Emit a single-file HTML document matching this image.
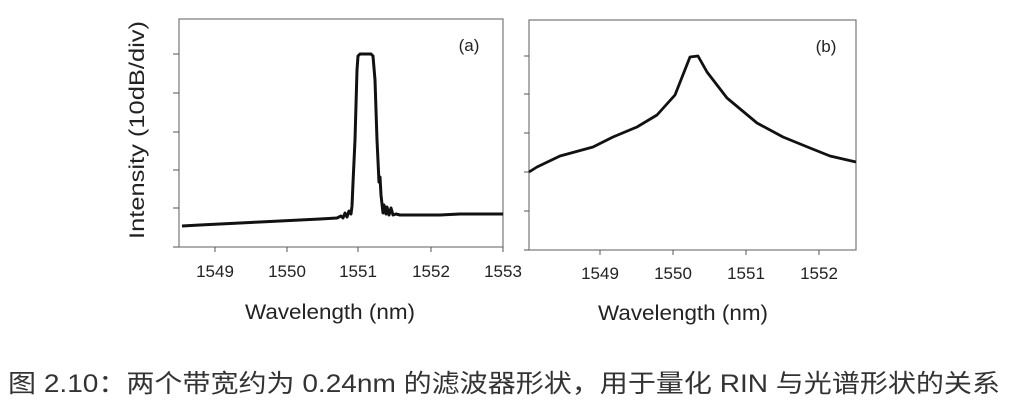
<!DOCTYPE html>
<html><head><meta charset="utf-8"><style>
html,body{margin:0;padding:0;background:#fff;}
svg{display:block;}
</style></head><body>
<svg width="1010" height="407" viewBox="0 0 1010 407" xmlns="http://www.w3.org/2000/svg" font-family="Liberation Sans, sans-serif">
<rect x="179" y="19" width="324" height="228" fill="none" stroke="#777" stroke-width="1.2"/>
<g stroke="#555" stroke-width="1">
<line x1="173" y1="54" x2="179" y2="54"/><line x1="173" y1="93" x2="179" y2="93"/><line x1="173" y1="132" x2="179" y2="132"/><line x1="173" y1="170" x2="179" y2="170"/><line x1="173" y1="208" x2="179" y2="208"/><line x1="173" y1="247" x2="179" y2="247"/>
<line x1="215" y1="247" x2="215" y2="252"/><line x1="287" y1="247" x2="287" y2="252"/><line x1="358" y1="247" x2="358" y2="252"/><line x1="431" y1="247" x2="431" y2="252"/><line x1="503" y1="247" x2="503" y2="252"/>
</g>
<path d="M182,226 L200,225 L220,224 L240,223 L260,222 L280,221 L300,220 L320,219 L337,218 L341,216 L343,218 L345,213 L347,217 L349,211 L351,214 L352,206 L353,183 L355,140 L357,70 L358,56 L360,54 L371,54 L373,56 L375,80 L377,140 L379,182 L380,177 L381,195 L383,213 L384,205 L386,214 L387,207 L389,215 L391,208 L393,215 L396,214 L400,215 L420,215 L440,215 L460,214 L480,214 L503,214" fill="none" stroke="#111" stroke-width="3" stroke-linejoin="round"/>
<text x="469" y="51" font-size="17" text-anchor="middle" fill="#222">(a)</text>
<g font-size="17" fill="#222" text-anchor="middle">
<text x="215" y="277">1549</text><text x="287" y="277">1550</text><text x="358" y="277">1551</text><text x="431" y="277">1552</text><text x="503" y="277">1553</text>
</g>
<text x="330" y="319" font-size="21" text-anchor="middle" fill="#222" textLength="170" lengthAdjust="spacingAndGlyphs">Wavelength (nm)</text>
<text transform="translate(144,130) rotate(-90)" font-size="21" text-anchor="middle" fill="#222" textLength="218" lengthAdjust="spacingAndGlyphs">Intensity (10dB/div)</text>
<rect x="529" y="20" width="327" height="230" fill="none" stroke="#777" stroke-width="1.2"/>
<g stroke="#555" stroke-width="1">
<line x1="524" y1="56" x2="529" y2="56"/><line x1="524" y1="94" x2="529" y2="94"/><line x1="524" y1="133" x2="529" y2="133"/><line x1="524" y1="172" x2="529" y2="172"/><line x1="524" y1="211" x2="529" y2="211"/><line x1="524" y1="250" x2="529" y2="250"/>
<line x1="600" y1="250" x2="600" y2="255"/><line x1="673" y1="250" x2="673" y2="255"/><line x1="746" y1="250" x2="746" y2="255"/><line x1="819" y1="250" x2="819" y2="255"/>
</g>
<path d="M529,172 L537,167 L560,156 L593,147 L613,137 L637,127 L657,115 L675,95 L690,57 L698,56 L707,72 L727,98 L757,123 L783,137 L810,148 L830,156 L856,162" fill="none" stroke="#111" stroke-width="2.8" stroke-linejoin="round"/>
<text x="826" y="52" font-size="17" text-anchor="middle" fill="#222">(b)</text>
<g font-size="17" fill="#222" text-anchor="middle">
<text x="600" y="279">1549</text><text x="673" y="279">1550</text><text x="746" y="279">1551</text><text x="819" y="279">1552</text>
</g>
<text x="683" y="320" font-size="21" text-anchor="middle" fill="#222" textLength="170" lengthAdjust="spacingAndGlyphs">Wavelength (nm)</text>
<text x="8" y="392" font-size="25" fill="#333" textLength="992" lengthAdjust="spacingAndGlyphs" font-family="Liberation Sans, Noto Sans CJK SC, sans-serif">图 2.10：两个带宽约为 0.24nm 的滤波器形状，用于量化 RIN 与光谱形状的关系</text>
</svg>
</body></html>
